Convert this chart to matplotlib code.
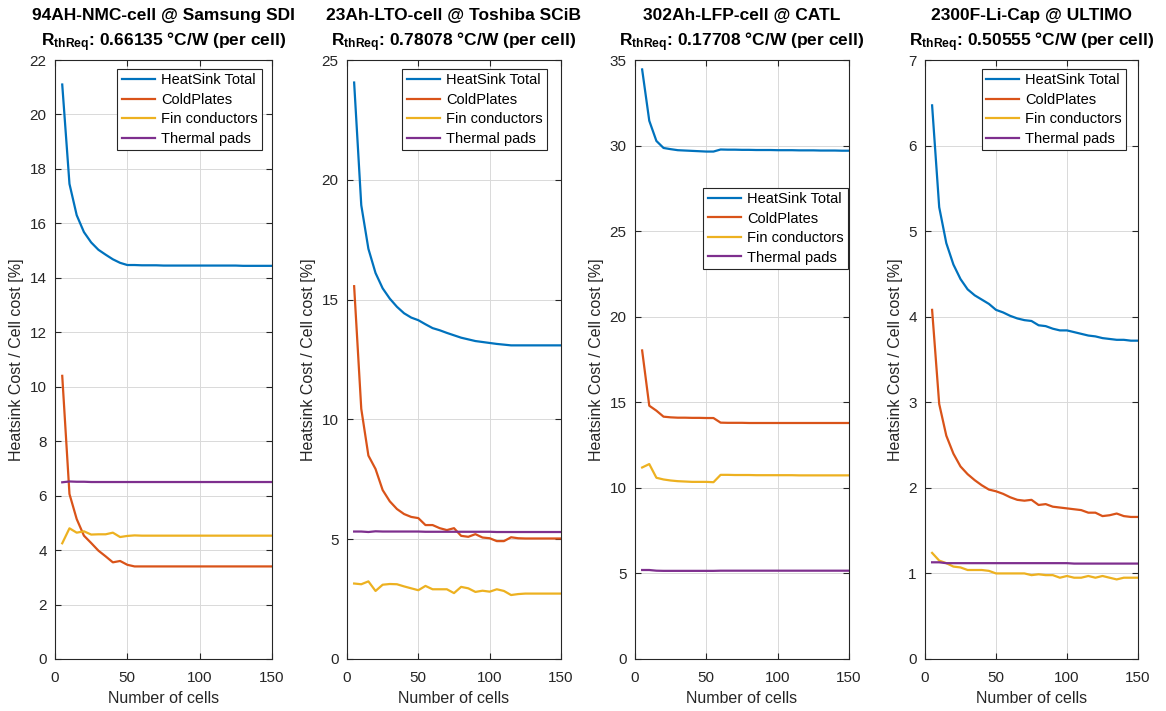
import matplotlib
matplotlib.use("Agg")
import matplotlib.pyplot as plt

plt.rcParams['font.family'] = ['Liberation Sans', 'DejaVu Sans']
plt.rcParams['mathtext.fontset'] = 'custom'
plt.rcParams['mathtext.rm'] = 'Liberation Sans'
plt.rcParams['mathtext.bf'] = 'Liberation Sans:bold'
plt.rcParams['mathtext.it'] = 'Liberation Sans:italic'

# ---------------- data ----------------
n_cells = [5, 10, 15, 20, 25, 30, 35, 40, 45, 50, 55, 60, 65, 70, 75,
           80, 85, 90, 95, 100, 105, 110, 115, 120, 125, 130, 135, 140, 145, 150]

series_names = ["HeatSink Total", "ColdPlates", "Fin conductors", "Thermal pads"]

titles = ["94AH-NMC-cell @ Samsung SDI", "23Ah-LTO-cell @ Toshiba SCiB",
          "302Ah-LFP-cell @ CATL", "2300F-Li-Cap @ ULTIMO"]
rth_values = ["0.66135", "0.78078", "0.17708", "0.50555"]

# Panel 1: 94AH-NMC
hs1 = [21.1, 17.45, 16.3, 15.68, 15.3, 15.03, 14.85, 14.68, 14.55, 14.47,
       14.47, 14.46, 14.46, 14.46, 14.45, 14.45, 14.45, 14.45, 14.45, 14.45,
       14.45, 14.45, 14.45, 14.45, 14.45, 14.44, 14.44, 14.44, 14.44, 14.44]
cp1 = [10.4, 6.06, 5.14, 4.53, 4.26, 3.98, 3.77, 3.55, 3.6, 3.46,
       3.40, 3.40, 3.40, 3.40, 3.40, 3.40, 3.40, 3.40, 3.40, 3.40,
       3.40, 3.40, 3.40, 3.40, 3.40, 3.40, 3.40, 3.40, 3.40, 3.40]
fin1 = [4.25, 4.8, 4.64, 4.69, 4.57, 4.58, 4.58, 4.64, 4.48, 4.52,
        4.54, 4.53, 4.53, 4.53, 4.53, 4.53, 4.53, 4.53, 4.53, 4.53,
        4.53, 4.53, 4.53, 4.53, 4.53, 4.53, 4.53, 4.53, 4.53, 4.53]
tp1 = [6.49, 6.52, 6.51, 6.51, 6.50, 6.50, 6.50, 6.50, 6.50, 6.50,
       6.50, 6.50, 6.50, 6.50, 6.50, 6.50, 6.50, 6.50, 6.50, 6.50,
       6.50, 6.50, 6.50, 6.50, 6.50, 6.50, 6.50, 6.50, 6.50, 6.50]

# Panel 2: 23Ah-LTO
hs2 = [24.06, 18.94, 17.12, 16.11, 15.47, 15.04, 14.70, 14.43, 14.25, 14.14,
       13.97, 13.81, 13.72, 13.61, 13.51, 13.41, 13.34, 13.27, 13.23, 13.19,
       13.15, 13.12, 13.09, 13.09, 13.09, 13.09, 13.09, 13.09, 13.09, 13.09]
cp2 = [15.56, 10.44, 8.49, 7.93, 7.05, 6.58, 6.26, 6.05, 5.93, 5.88,
       5.59, 5.59, 5.46, 5.38, 5.46, 5.14, 5.10, 5.21, 5.07, 5.04,
       4.92, 4.92, 5.08, 5.04, 5.03, 5.03, 5.03, 5.03, 5.03, 5.03]
fin2 = [3.15, 3.12, 3.24, 2.84, 3.10, 3.13, 3.12, 3.03, 2.95, 2.87,
        3.05, 2.91, 2.91, 2.91, 2.75, 3.01, 2.95, 2.80, 2.85, 2.81,
        2.91, 2.84, 2.67, 2.71, 2.73, 2.73, 2.73, 2.73, 2.73, 2.73]
tp2 = [5.32, 5.32, 5.30, 5.33, 5.32, 5.32, 5.32, 5.32, 5.32, 5.32,
       5.31, 5.31, 5.31, 5.31, 5.31, 5.31, 5.31, 5.31, 5.31, 5.31,
       5.30, 5.30, 5.30, 5.30, 5.30, 5.30, 5.30, 5.30, 5.30, 5.30]

# Panel 3: 302Ah-LFP
hs3 = [34.45, 31.45, 30.27, 29.86, 29.79, 29.73, 29.71, 29.69, 29.67, 29.65,
       29.65, 29.77, 29.76, 29.76, 29.75, 29.75, 29.74, 29.74, 29.74, 29.73,
       29.73, 29.73, 29.72, 29.72, 29.72, 29.71, 29.71, 29.71, 29.70, 29.70]
cp3 = [18.03, 14.80, 14.51, 14.16, 14.12, 14.10, 14.10, 14.09, 14.09, 14.08,
       14.08, 13.81, 13.80, 13.80, 13.80, 13.79, 13.79, 13.79, 13.79, 13.79,
       13.79, 13.79, 13.79, 13.79, 13.79, 13.79, 13.79, 13.79, 13.79, 13.79]
fin3 = [11.19, 11.39, 10.59, 10.49, 10.43, 10.39, 10.37, 10.35, 10.35, 10.35,
        10.33, 10.76, 10.76, 10.75, 10.75, 10.75, 10.74, 10.74, 10.74, 10.74,
        10.74, 10.74, 10.73, 10.73, 10.73, 10.73, 10.73, 10.73, 10.73, 10.73]
tp3 = [5.20, 5.20, 5.16, 5.15, 5.15, 5.15, 5.15, 5.15, 5.15, 5.15,
       5.15, 5.16, 5.16, 5.16, 5.16, 5.16, 5.16, 5.16, 5.16, 5.16,
       5.16, 5.16, 5.16, 5.16, 5.16, 5.16, 5.16, 5.16, 5.16, 5.16]

# Panel 4: 2300F-Li-Cap
hs4 = [6.47, 5.28, 4.86, 4.61, 4.44, 4.32, 4.25, 4.20, 4.15, 4.08,
       4.05, 4.01, 3.98, 3.96, 3.95, 3.90, 3.89, 3.86, 3.84, 3.84,
       3.82, 3.80, 3.78, 3.77, 3.75, 3.74, 3.73, 3.73, 3.72, 3.72]
cp4 = [4.08, 2.98, 2.61, 2.40, 2.25, 2.16, 2.09, 2.03, 1.98, 1.96,
       1.93, 1.89, 1.86, 1.85, 1.86, 1.80, 1.81, 1.78, 1.77, 1.76,
       1.75, 1.74, 1.71, 1.71, 1.67, 1.68, 1.70, 1.67, 1.66, 1.66]
fin4 = [1.24, 1.15, 1.12, 1.08, 1.07, 1.04, 1.04, 1.04, 1.03, 1.00,
        1.00, 1.00, 1.00, 1.00, 0.98, 0.99, 0.98, 0.98, 0.95, 0.97,
        0.95, 0.95, 0.97, 0.95, 0.97, 0.95, 0.93, 0.95, 0.95, 0.95]
tp4 = [1.13, 1.13, 1.12, 1.12, 1.12, 1.12, 1.12, 1.12, 1.12, 1.12,
       1.12, 1.12, 1.12, 1.12, 1.12, 1.12, 1.12, 1.12, 1.12, 1.12,
       1.115, 1.115, 1.115, 1.115, 1.115, 1.115, 1.115, 1.115, 1.115, 1.115]

panel_data = [(hs1, cp1, fin1, tp1), (hs2, cp2, fin2, tp2),
              (hs3, cp3, fin3, tp3), (hs4, cp4, fin4, tp4)]
y_limits = [22, 25, 35, 7]
y_steps = [2, 5, 5, 1]
x_ticks = [0, 50, 100, 150]

# ---------------- styling ----------------
colors = ["#0072BD", "#D95319", "#EDB120", "#7E2F8E"]
axis_col = "#262626"

W, H = 1166, 711
fig = plt.figure(figsize=(W / 100, H / 100), dpi=100)

ax_lefts = [55, 347, 635, 925]
ax_widths = [217, 214, 214, 213]
ax_top, ax_bottom = 60, 659
legend_anchor = [(0.955, 0.985), (0.935, 0.985), (0.995, 0.787), (0.945, 0.985)]

for i in range(4):
    l = ax_lefts[i] / W
    b = (H - ax_bottom) / H
    w = ax_widths[i] / W
    h = (ax_bottom - ax_top) / H
    ax = fig.add_axes([l, b, w, h])
    for j, (vals, name) in enumerate(zip(panel_data[i], series_names)):
        ax.plot(n_cells, vals, color=colors[j], lw=1.6, label=name)
    ax.set_xlim(0, 150)
    ax.set_ylim(0, y_limits[i])
    ax.set_xticks(x_ticks)
    ax.set_yticks(list(range(0, y_limits[i] + 1, y_steps[i])))
    ax.grid(True, color="#d9d9d9", lw=0.7)
    ax.set_axisbelow(True)
    ax.tick_params(direction="in", top=True, right=True, length=4, pad=6,
                   labelsize=11, colors=axis_col, labelcolor="#262626", width=0.8)
    ax.tick_params(axis="x", pad=9)
    for s in ax.spines.values():
        s.set_color(axis_col)
        s.set_linewidth(0.8)
    ax.set_xlabel("Number of cells", fontsize=11.5, color="#262626", labelpad=4)
    ax.set_ylabel("Heatsink Cost / Cell cost [%]", fontsize=11.5, color="#262626", labelpad=4)
    ax.set_title(titles[i] + "\n" + r"$\mathbf{R}_{\mathbf{thReq}}$: " + rth_values[i] + " °C/W (per cell)",
                 fontsize=12.5, fontweight="bold", color="black", pad=10, linespacing=1.45)
    leg = ax.legend(loc="upper right", bbox_to_anchor=legend_anchor[i], fontsize=10.5,
                    frameon=True, fancybox=False, framealpha=1, edgecolor="#262626",
                    handlelength=2.3, handletextpad=0.4, borderpad=0.3, labelspacing=0.38,
                    borderaxespad=0)
    leg.get_frame().set_linewidth(0.8)

fig.savefig("out.png", dpi=100)
